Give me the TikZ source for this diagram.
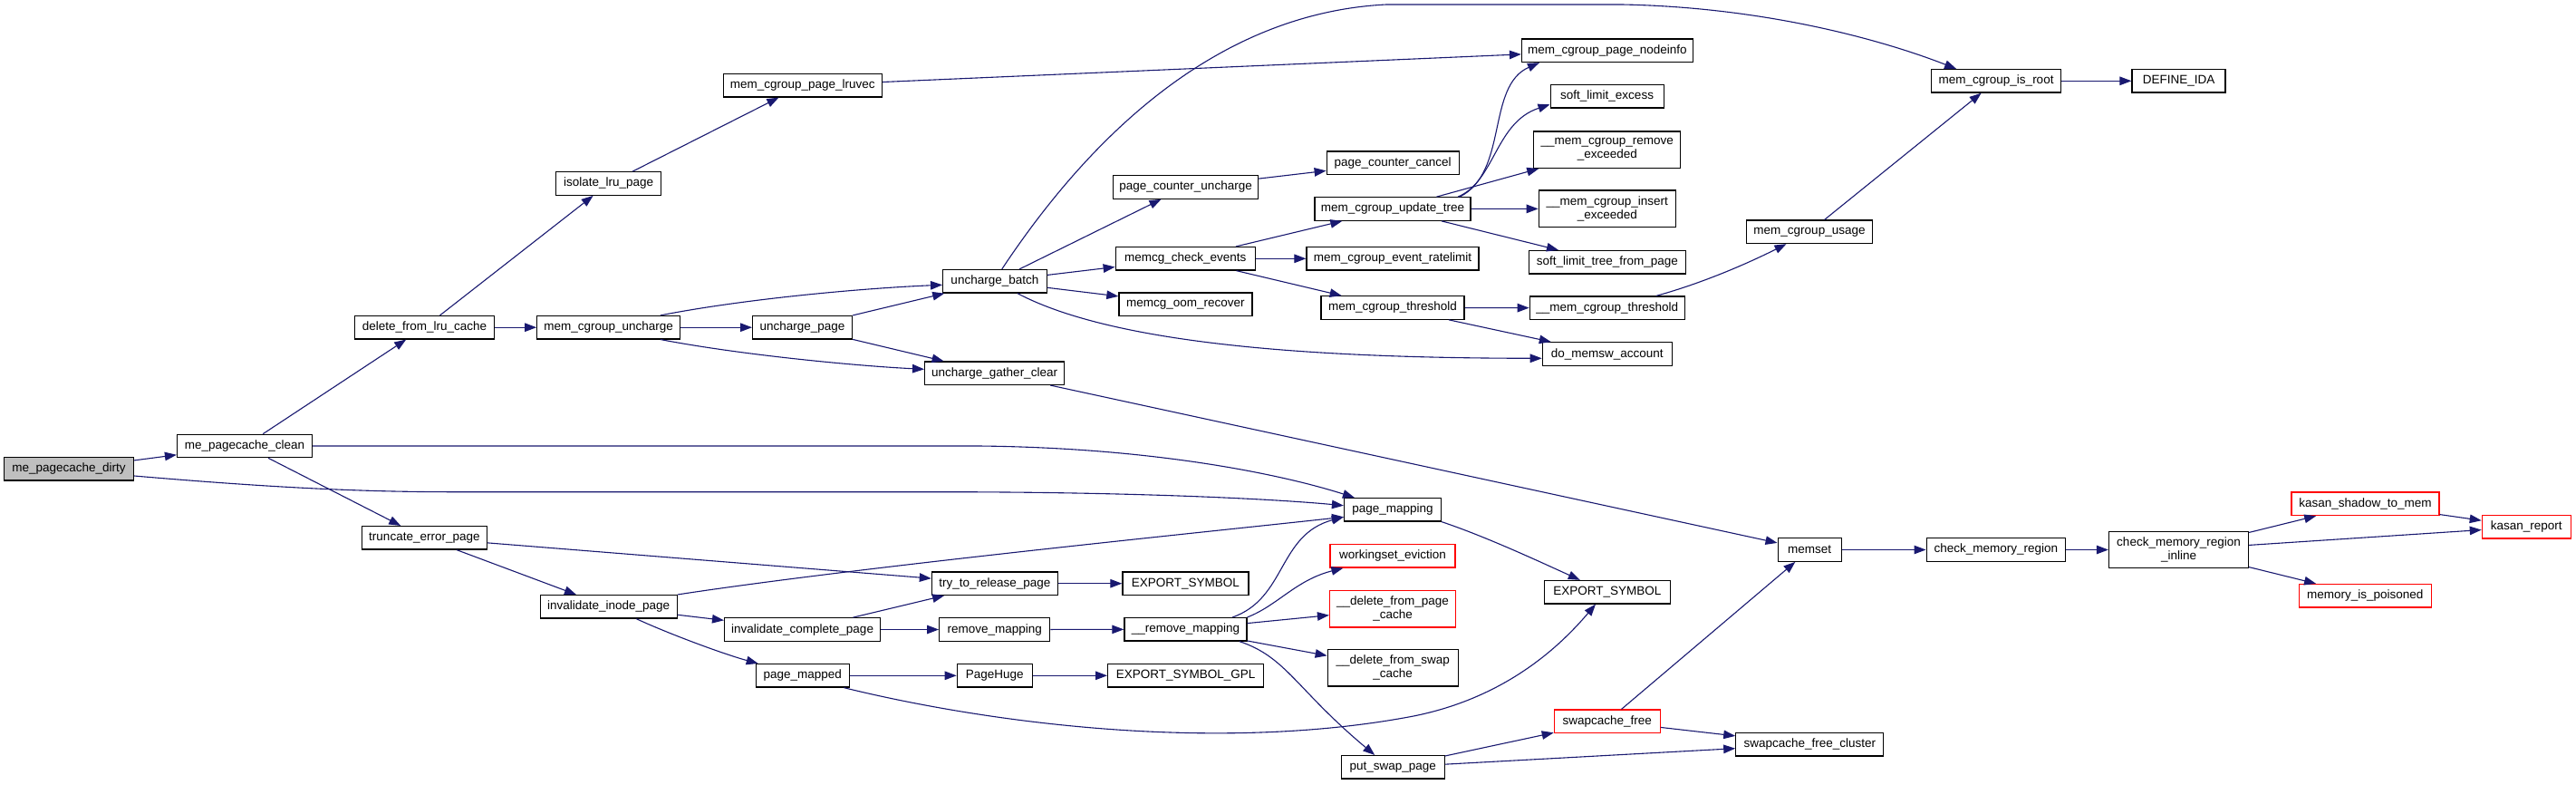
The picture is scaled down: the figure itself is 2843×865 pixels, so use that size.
\documentclass[tikz,border=0pt]{standalone}
\usepackage{fontspec}
\newfontfamily\fnfont{Liberation Sans}
\usetikzlibrary{arrows.meta,calc}
\definecolor{edgec}{RGB}{25,25,112}
\definecolor{grayfill}{RGB}{191,191,191}
\definecolor{hotred}{RGB}{255,0,0}
\begin{document}
\begin{tikzpicture}[x=1pt,y=-1pt,
  fn/.style={draw=black, line width=1.2pt, fill=white, inner sep=0pt, minimum height=25.5pt,
    font={\fnfont\fontsize{13.5pt}{15pt}\selectfont}, align=center},
  hot/.style={draw=hotred},
  two/.style={minimum height=40.5pt},
  e/.style={draw=edgec, line width=1.1pt, -{Triangle[length=13pt,width=9.5pt]}}]
\fill[white] (0,0) rectangle (2843,865);
\useasboundingbox (0,0) rectangle (2843,865);
% nodes
\node[fn, fill=grayfill, minimum width=143] (dirty) at (76,517.3) {me\_pagecache\_dirty};
\node[fn, minimum width=149] (clean) at (270,492) {me\_pagecache\_clean};
\node[fn, minimum width=154] (dlru) at (468.5,361.2) {delete\_from\_lru\_cache};
\node[fn, minimum width=138] (tep) at (468.4,593.3) {truncate\_error\_page};
\node[fn, minimum width=175] (lruvec) at (885.8,94.3) {mem\_cgroup\_page\_lruvec};
\node[fn, minimum width=116] (ilp) at (671.7,202.5) {isolate\_lru\_page};
\node[fn, minimum width=158] (mcu) at (671.7,361.2) {mem\_cgroup\_uncharge};
\node[fn, minimum width=110] (up) at (885.6,361.2) {uncharge\_page};
\node[fn, minimum width=114.5] (ub) at (1097.9,310.3) {uncharge\_batch};
\node[fn, minimum width=154] (ugc) at (1097.6,411.7) {uncharge\_gather\_clear};
\node[fn, minimum width=151] (iip) at (671.7,669.3) {invalidate\_inode\_page};
\node[fn, minimum width=172] (icp) at (885.6,694.5) {invalidate\_complete\_page};
\node[fn, minimum width=103] (pmd) at (885.8,745.3) {page\_mapped};
\node[fn, minimum width=139] (ttrp) at (1097.9,643.7) {try\_to\_release\_page};
\node[fn, minimum width=122] (rmap) at (1097.7,694.5) {remove\_mapping};
\node[fn, minimum width=83] (phuge) at (1097.8,745.3) {PageHuge};
\node[fn, minimum width=146] (pcc) at (1537.2,179.8) {page\_counter\_cancel};
\node[fn, minimum width=160] (pcu) at (1308.6,206.5) {page\_counter\_uncharge};
\node[fn, minimum width=172] (mcut) at (1537,230.5) {mem\_cgroup\_update\_tree};
\node[fn, minimum width=154] (mce) at (1308.2,285.3) {memcg\_check\_events};
\node[fn, minimum width=190] (mcer) at (1537,285.3) {mem\_cgroup\_event\_ratelimit};
\node[fn, minimum width=147] (mor) at (1308.4,335.8) {memcg\_oom\_recover};
\node[fn, minimum width=158] (mct) at (1537,339.5) {mem\_cgroup\_threshold};
\node[fn, minimum width=107] (pm) at (1537,562.3) {page\_mapping};
\node[fn, hot, minimum width=138] (wse) at (1537,613.3) {workingset\_eviction};
\node[fn, hot, two, minimum width=139] (dfpc) at (1537,671.8) {\_\_delete\_from\_page\\\_cache};
\node[fn, minimum width=139] (es1) at (1308.4,643.7) {EXPORT\_SYMBOL};
\node[fn, minimum width=135] (rm2) at (1308.4,694.3) {\_\_remove\_mapping};
\node[fn, two, minimum width=144] (dfsc) at (1537.2,736.8) {\_\_delete\_from\_swap\\\_cache};
\node[fn, minimum width=172] (esgpl) at (1308.6,745.3) {EXPORT\_SYMBOL\_GPL};
\node[fn, minimum width=114] (psp) at (1537.2,846.3) {put\_swap\_page};
\node[fn, minimum width=188.6] (nodeinfo) at (1773.8,55.8) {mem\_cgroup\_page\_nodeinfo};
\node[fn, minimum width=125] (sle) at (1773.6,106.3) {soft\_limit\_excess};
\node[fn, two, minimum width=162] (mre) at (1773.8,165.2) {\_\_mem\_cgroup\_remove\\\_exceeded};
\node[fn, two, minimum width=151] (mie) at (1773.8,230.3) {\_\_mem\_cgroup\_insert\\\_exceeded};
\node[fn, minimum width=172.6] (sltfp) at (1773.8,289.2) {soft\_limit\_tree\_from\_page};
\node[fn, minimum width=171] (mcth) at (1773.8,339.7) {\_\_mem\_cgroup\_threshold};
\node[fn, minimum width=143] (dma) at (1773.8,390.5) {do\_memsw\_account};
\node[fn, minimum width=139] (usage) at (1997,255.8) {mem\_cgroup\_usage};
\node[fn, minimum width=143] (isroot) at (2203.1,89.3) {mem\_cgroup\_is\_root};
\node[fn, minimum width=103] (ida) at (2404.5,89.3) {DEFINE\_IDA};
\node[fn, minimum width=70] (memset) at (1997.1,606.5) {memset};
\node[fn, minimum width=139] (es2) at (1773.8,653.2) {EXPORT\_SYMBOL};
\node[fn, hot, minimum width=117] (scf) at (1773.8,795.7) {swapcache\_free};
\node[fn, minimum width=163] (sfc) at (1997.3,821.2) {swapcache\_free\_cluster};
\node[fn, minimum width=153.6] (cmr) at (2202.9,606.5) {check\_memory\_region};
\node[fn, two, minimum width=154] (cmri) at (2404.5,606.5) {check\_memory\_region\\\_inline};
\node[fn, hot, minimum width=163] (kstm) at (2610.4,555.8) {kasan\_shadow\_to\_mem};
\node[fn, hot, minimum width=98] (kr) at (2788.3,581.3) {kasan\_report};
\node[fn, hot, minimum width=146] (mip) at (2610.2,657.2) {memory\_is\_poisoned};
% edges
\draw[e] (dirty) -- (clean);
\draw[e] ($(dirty.east)+(0,7.7)$) .. controls (300,538) and (400,542.7) .. (500,542.7) -- (1050,542.7) .. controls (1250,543) and (1400,550) .. ($(pm.west)+(0,-4.6)$);
\draw[e] (clean) -- (dlru);
\draw[e] (clean.east) -- (1080,492) .. controls (1280,494) and (1420,525) .. ($(pm.north west)+(12,0)$);
\draw[e] (clean) -- (tep);
\draw[e] (dlru) -- (ilp);
\draw[e] (dlru) -- (mcu);
\draw[e] (ilp) -- (lruvec);
\draw[e] (lruvec) -- (nodeinfo);
\draw[e] ($(mcu.north)+(57.3,0)$) .. controls (820,330) and (950,318) .. ($(ub.west)+(0,4)$);
\draw[e] (mcu) -- (up);
\draw[e] ($(mcu.south)+(57.3,0)$) .. controls (820,392) and (950,404) .. ($(ugc.west)+(0,-4.4)$);
\draw[e] (up) -- (ub);
\draw[e] (up) -- (ugc);
\draw[e] ($(ub.north)+(7.8,0)$) .. controls (1190,170) and (1330,15) .. (1530,5) -- (1790,5) .. controls (1950,8) and (2080,45) .. ($(isroot.north)+(-44,0)$);
\draw[e] (ub) -- (pcu);
\draw[e] (ub) -- (mce);
\draw[e] (ub) -- (mor);
\draw[e] ($(ub.south)+(25,0)$) .. controls (1230,380) and (1450,395) .. ($(dma.west)+(0,4.8)$);
\draw[e] (pcu) -- (pcc);
\draw[e] (mce) -- (mcut);
\draw[e] (mce) -- (mcer);
\draw[e] (mce) -- (mct);
\draw[e] ($(mcut.north)+(74,0)$) .. controls (1665,190) and (1640,95) .. ($(nodeinfo.south west)+(20,0)$);
\draw[e] ($(mcut.north)+(72,0)$) .. controls (1650,200) and (1650,135) .. ($(sle.west)+(0,9)$);
\draw[e] (mcut) -- (mre);
\draw[e] (mcut) -- (mie);
\draw[e] (mcut) -- (sltfp);
\draw[e] (mct) -- (mcth);
\draw[e] (mct) -- (dma);
\draw[e] ($(mcth.north)+(54.2,0)$) .. controls (1880,312) and (1930,290) .. ($(usage.south)+(-25.5,0)$);
\draw[e] (usage) -- (isroot);
\draw[e] (isroot) -- (ida);
\draw[e] (ugc) -- (memset);
\draw[e] (tep) -- (ttrp);
\draw[e] (tep) -- (iip);
\draw[e] (iip.north east) .. controls (950,625) and (1350,585) .. ($(pm.west)+(0,8)$);
\draw[e] (iip) -- (icp);
\draw[e] ($(iip.south)+(30.6,0)$) .. controls (740,700) and (800,722) .. ($(pmd.north west)+(3,0)$);
\draw[e] (icp) -- (ttrp);
\draw[e] (icp) -- (rmap);
\draw[e] (ttrp) -- (es1);
\draw[e] (rmap) -- (rm2);
\draw[e] (pmd) -- (phuge);
\draw[e] (phuge) -- (esgpl);
\draw[e] ($(pmd.south east)+(-6.5,0)$) .. controls (1100,800) and (1350,830) .. (1560,790) .. controls (1660,770) and (1720,715) .. ($(es2.south)+(-12.8,0)$);
\draw[e] (pm.south east) .. controls (1640,592) and (1700,620) .. ($(es2.north)+(-30,0)$);
\draw[e] ($(rm2.north)+(51.8,0)$) .. controls (1420,660) and (1410,590) .. ($(pm.west)+(0,8)$);
\draw[e] (rm2.north east) .. controls (1410,668) and (1430,640) .. ($(wse.south west)+(15,0)$);
\draw[e] (rm2) -- (dfpc);
\draw[e] (rm2) -- (dfsc);
\draw[e] ($(rm2.south)+(59.6,0)$) .. controls (1420,725) and (1430,760) .. ($(psp.north)+(-20,0)$);
\draw[e] (psp) -- (scf);
\draw[e] (psp) -- (sfc);
\draw[e] (scf) -- (memset);
\draw[e] (scf) -- (sfc);
\draw[e] (memset) -- (cmr);
\draw[e] (cmr) -- (cmri);
\draw[e] (cmri) -- (kstm);
\draw[e] (cmri) -- (kr);
\draw[e] (cmri) -- (mip);
\draw[e] (kstm) -- (kr);
\end{tikzpicture}
\end{document}
